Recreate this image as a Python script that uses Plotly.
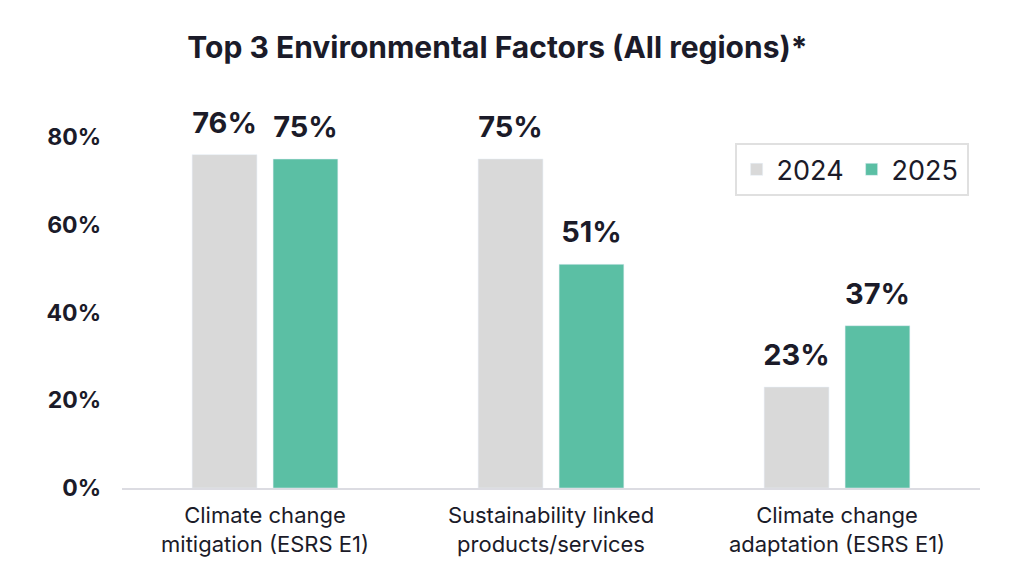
import plotly.graph_objects as go

categories = ["Climate change<br>mitigation (ESRS E1)", "Sustainability linked<br>products/services", "Climate change<br>adaptation (ESRS E1)"]
values_2024 = [76, 75, 23]
values_2025 = [75, 51, 37]
tick_vals = [0, 20, 40, 60, 80]
tick_text = ["0%", "20%", "40%", "60%", "80%"]

dark = "#1b1b29"
font_family = "Inter, Lato, sans-serif"
label_font = dict(size=29, color=dark, family=font_family, weight="bold")

fig = go.Figure()
for name, vals, color in [("2024", values_2024, "#d9d9d9"), ("2025", values_2025, "#5bbfa4")]:
    fig.add_trace(go.Bar(name=name, x=categories, y=vals, marker_color=color,
                         offsetgroup=name, hoverinfo="skip"))
for name, vals in [("2024", values_2024), ("2025", values_2025)]:
    fig.add_trace(go.Scatter(x=categories, y=vals, mode="markers+text",
                             text=[f"{v}%" for v in vals], textposition="top center",
                             textfont=label_font, marker=dict(size=22, opacity=0),
                             offsetgroup=name, showlegend=False, cliponaxis=False,
                             hoverinfo="skip"))

fig.update_layout(
    width=1024, height=585,
    paper_bgcolor="white", plot_bgcolor="white",
    margin=dict(l=114, r=52, t=94, b=105),
    barmode="group", bargap=0.434, bargroupgap=0.2,
    scattermode="group", scattergap=0.434,
    title=dict(text="<b>Top 3 Environmental Factors (All regions)*</b>",
               x=0.478, xanchor="center", y=0.932, yanchor="middle",
               font=dict(size=30, color=dark, family=font_family)),
    legend=dict(x=0.714, y=0.893, xanchor="left", yanchor="top",
                orientation="h", bordercolor="#e0e0e0", borderwidth=2,
                font=dict(size=27, color=dark, family=font_family),
                entrywidth=70, traceorder="normal"),
)
fig.update_xaxes(showline=True, linecolor="#dcdce2", linewidth=2, showgrid=False,
                 tickfont=dict(size=22, color=dark, family=font_family), ticks="",
                 ticklabelstandoff=7)
fig.update_yaxes(range=[0, 88], tickvals=tick_vals, ticktext=tick_text, showgrid=False,
                 zeroline=False, showline=False,
                 tickfont=dict(size=23, color=dark, family=font_family, weight="bold"),
                 ticklabelstandoff=20)

fig.write_html("out.html")
